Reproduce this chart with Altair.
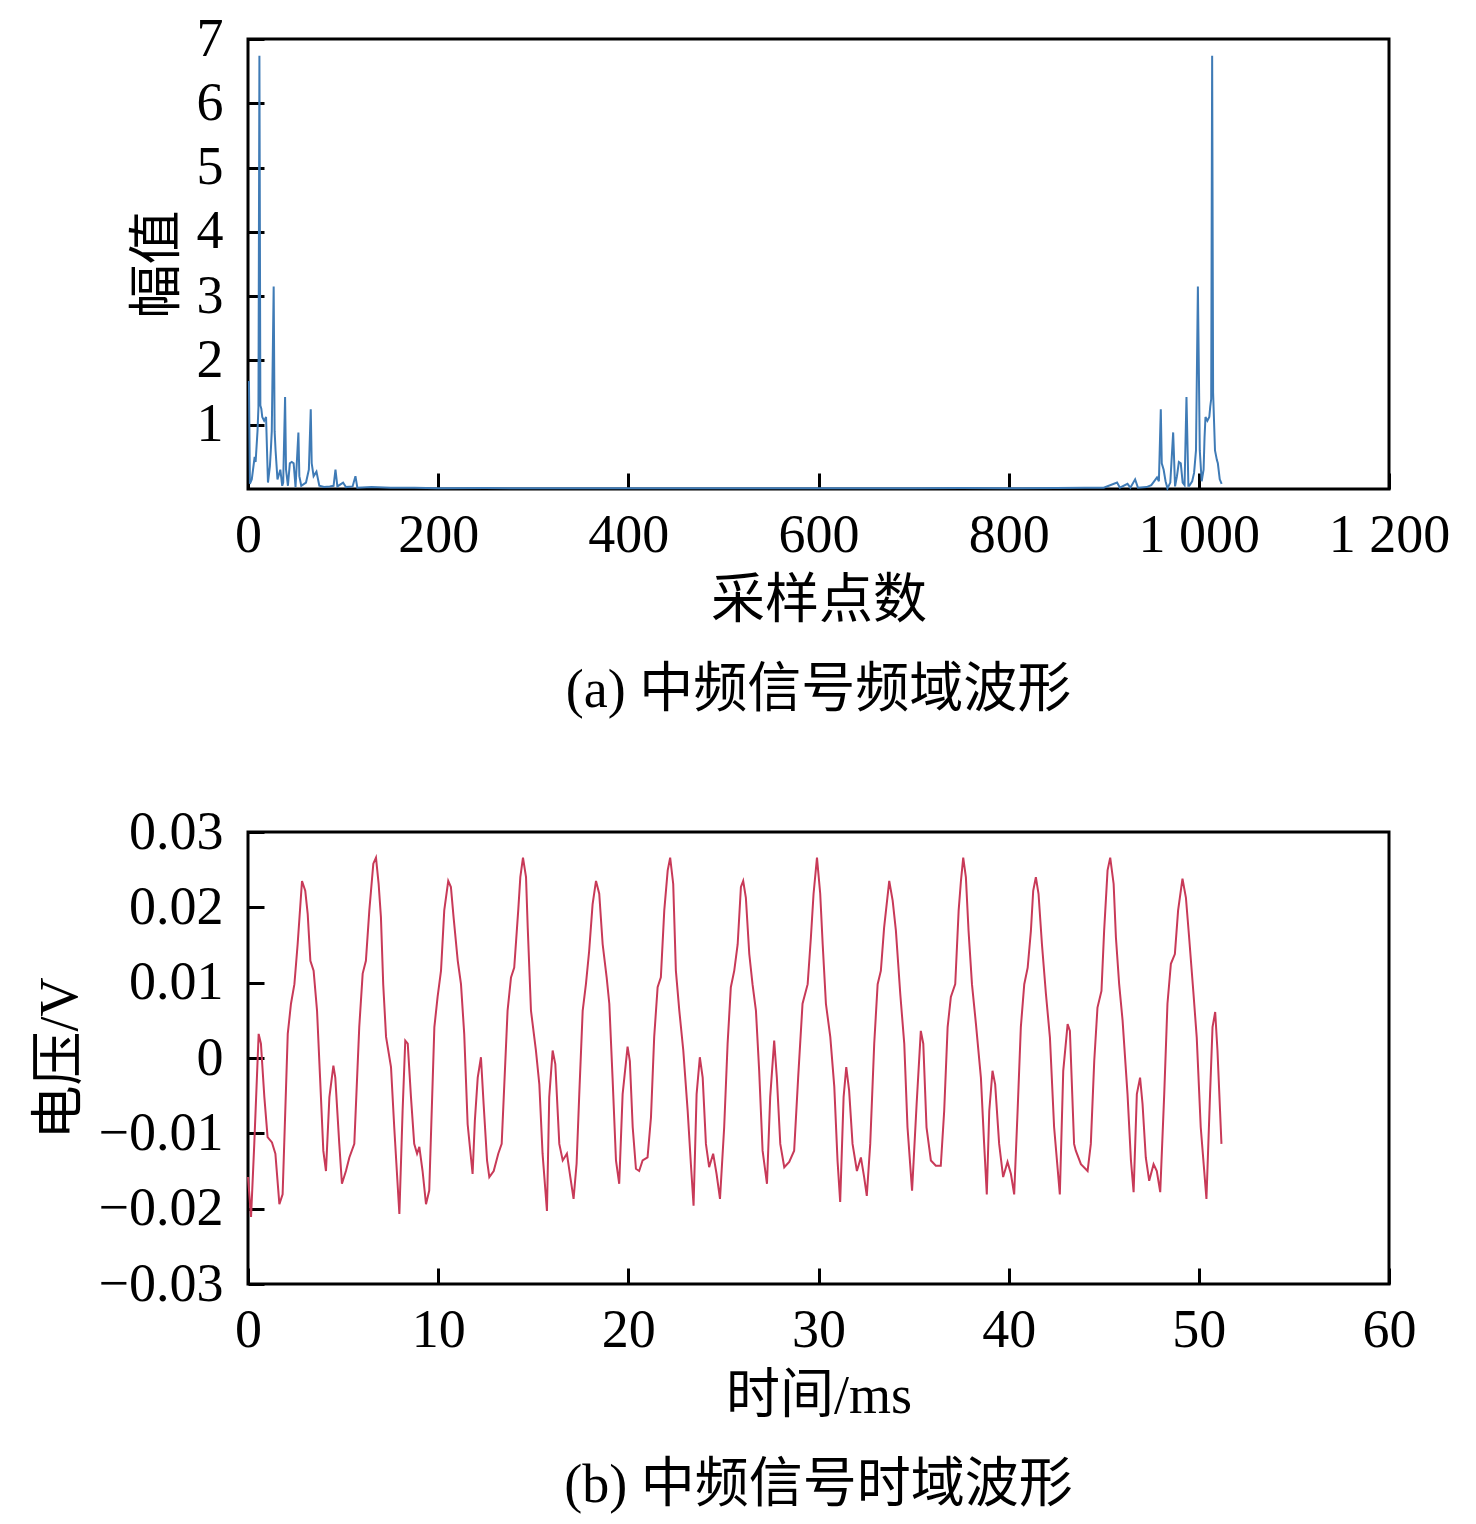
import altair as alt
import pandas as pd

FONT = "Liberation Serif, Noto Sans CJK SC, serif"

# ---------- (a) spectrum: sample index / magnitude ----------
spec_x = [1, 2, 4, 7, 8, 10, 11, 12, 13, 14, 15, 17, 19, 20, 21, 23, 24, 25, 27, 28,
          29, 31, 34, 36, 37, 39, 40, 42, 44, 46, 48, 50, 53, 54, 56, 61, 64, 66, 67, 69,
          72, 75, 80, 86, 90, 92, 94, 100, 103, 110, 113, 115, 130, 150, 175, 200, 250, 300,
          350, 400, 450, 500, 550, 600, 650, 700, 750, 800, 850, 880, 900, 914, 917, 925,
          928, 933, 936, 945, 950, 952, 956, 958, 960, 961, 963, 965, 967, 970, 973, 975,
          977, 979, 981, 983, 985, 987, 989, 990, 993, 995, 997, 999, 1001, 1003, 1005,
          1006, 1007, 1009, 1011, 1012, 1013, 1014, 1015, 1017, 1019, 1020, 1022, 1024]
spec_y = [1.68, 0.08, 0.15, 0.5, 0.42, 0.9, 1.28, 6.74, 1.3, 1.25, 1.12, 1.06, 1.12, 0.6, 0.1, 0.35, 0.6, 0.9, 3.15, 0.9,
          0.6, 0.15, 0.3, 0.05, 0.1, 1.43, 0.3, 0.05, 0.4, 0.42, 0.4, 0.03, 0.88, 0.2, 0.05, 0.1, 0.3, 1.24, 0.4, 0.2,
          0.27, 0.05, 0.03, 0.04, 0.05, 0.3, 0.04, 0.1, 0.03, 0.04, 0.2, 0.02, 0.03, 0.02, 0.02, 0.01, 0.015, 0.01,
          0.01, 0.01, 0.01, 0.01, 0.01, 0.01, 0.01, 0.01, 0.015, 0.01, 0.015, 0.02, 0.02, 0.1, 0.02, 0.08,
          0.02, 0.15, 0.02, 0.03, 0.06, 0.1, 0.18, 0.12, 1.24, 0.4, 0.3, 0.12, 0.01, 0.1, 0.88, 0.04,
          0.2, 0.42, 0.4, 0.1, 0.06, 1.43, 0.05, 0.05, 0.12, 0.25, 0.6, 3.15, 0.6, 0.12, 0.3,
          0.8, 1.12, 1.06, 1.12, 1.28, 1.4, 6.74, 1.5, 0.6, 0.45, 0.4, 0.15, 0.08]

# ---------- (b) time waveform: ms / V ----------
time_ms = [0.00, 0.16, 0.33, 0.56, 0.68, 0.86, 1.03, 1.26, 1.44, 1.65, 1.82, 2.09, 2.26, 2.44, 2.61, 2.84, 3.01, 3.14,
           3.28, 3.45, 3.63, 3.79, 3.96, 4.10, 4.28, 4.49, 4.59, 4.80, 4.94, 5.15, 5.33, 5.59, 5.85, 6.03, 6.20,
           6.38, 6.59, 6.73, 6.87, 6.99, 7.11, 7.26, 7.52, 7.69, 7.96, 8.13, 8.27, 8.40, 8.57,
           8.74, 8.89, 9.01, 9.18, 9.36, 9.53, 9.80, 9.97, 10.15, 10.32, 10.53, 10.67, 10.81, 11.03, 11.20,
           11.37, 11.55, 11.81, 11.93, 12.08, 12.25, 12.39, 12.57, 12.69, 12.92, 13.16, 13.34, 13.65, 13.83,
           14.00, 14.21, 14.32, 14.46, 14.62, 14.71, 14.88, 15.14, 15.32, 15.49, 15.72, 15.84, 16.02, 16.16,
           16.37, 16.55, 16.77, 16.95, 17.12, 17.28, 17.42, 17.60, 17.77, 17.94, 18.12, 18.30, 18.47, 18.65,
           18.86, 19.00, 19.17, 19.35, 19.52, 19.70, 19.96, 20.08, 20.23, 20.40, 20.57, 20.75, 21.01, 21.19,
           21.36, 21.54, 21.71, 21.89, 22.07, 22.20, 22.36, 22.50, 22.68, 22.89, 23.12, 23.29, 23.43, 23.59,
           23.76, 23.91, 24.08, 24.25, 24.46, 24.64, 24.82, 25.04, 25.22, 25.39, 25.57, 25.75, 25.92, 26.04,
           26.18, 26.36, 26.53, 26.71, 26.88, 27.06, 27.29, 27.46, 27.67, 27.81, 27.99, 28.20, 28.46, 28.72,
           28.93, 29.16, 29.43, 29.60, 29.74, 29.92, 30.09, 30.22, 30.39, 30.62, 30.83, 31.00, 31.14, 31.32,
           31.46, 31.61, 31.79, 32.02, 32.23, 32.40, 32.54, 32.72, 32.93, 33.11, 33.28, 33.45, 33.72, 33.90,
           34.07, 34.30, 34.51, 34.68, 34.92, 35.16, 35.38, 35.51, 35.68, 35.91, 36.17, 36.43, 36.61, 36.79,
           36.96, 37.19, 37.37, 37.49, 37.61, 37.75, 37.89, 38.07, 38.28, 38.54, 38.71, 38.85, 38.98, 39.15,
           39.29, 39.50, 39.71, 39.94, 40.12, 40.29, 40.47, 40.64, 40.82, 41.00, 41.17, 41.29, 41.43, 41.57,
           41.75, 41.96, 42.17, 42.39, 42.69, 42.87, 43.10, 43.22, 43.44, 43.53, 43.80, 44.15, 44.32, 44.50,
           44.67, 44.88, 45.02, 45.20, 45.34, 45.52, 45.64, 45.81, 45.99, 46.25, 46.43, 46.57, 46.74, 46.91,
           47.04, 47.21, 47.39, 47.62, 47.79, 47.97, 48.18, 48.35, 48.53, 48.74, 48.91, 49.14, 49.32, 49.49,
           49.72, 49.89, 50.10, 50.40, 50.59, 50.72, 50.86, 50.98, 51.19]
volt = [-0.0158, -0.0211, -0.0114, 0.0032, 0.0019, -0.0052, -0.0105, -0.0112, -0.0127, -0.0194, -0.0181, 0.0032, 0.0072, 0.0098, 0.0151, 0.0235, 0.0222, 0.0191,
        0.0129, 0.0116, 0.0063, -0.0026, -0.0123, -0.0150, -0.0052, -0.0010, -0.0026, -0.0114, -0.0167, -0.0150, -0.0132, -0.0114, 0.0041, 0.0112, 0.0129,
        0.0196, 0.0258, 0.0266, 0.0231, 0.0187, 0.0098, 0.0028, -0.0012, -0.0092, -0.0207, -0.0070, 0.0023, 0.0019, -0.0052,
        -0.0114, -0.0127, -0.0118, -0.0150, -0.0194, -0.0176, 0.0041, 0.0081, 0.0116, 0.0196, 0.0235, 0.0227, 0.0187, 0.0129, 0.0098,
        0.0032, -0.0088, -0.0154, -0.0083, -0.0026, 0.0001, -0.0061, -0.0136, -0.0158, -0.0150, -0.0127, -0.0114, 0.0063, 0.0107,
        0.0120, 0.0196, 0.0240, 0.0266, 0.0240, 0.0173, 0.0063, 0.0010, -0.0035, -0.0127, -0.0203, -0.0052, 0.0010, -0.0008,
        -0.0114, -0.0136, -0.0127, -0.0158, -0.0187, -0.0140, -0.0048, 0.0063, 0.0098, 0.0142, 0.0204, 0.0235, 0.0218, 0.0151,
        0.0107, 0.0072, -0.0026, -0.0136, -0.0167, -0.0048, 0.0015, -0.0004, -0.0092, -0.0147, -0.0150, -0.0136, -0.0132, -0.0079,
        0.0028, 0.0094, 0.0107, 0.0196, 0.0249, 0.0266, 0.0231, 0.0116, 0.0063, 0.0010, -0.0070, -0.0141, -0.0196, -0.0048,
        0.0001, -0.0026, -0.0114, -0.0145, -0.0127, -0.0154, -0.0187, -0.0092, 0.0019, 0.0094, 0.0116, 0.0151, 0.0227, 0.0235,
        0.0213, 0.0138, 0.0098, 0.0063, -0.0017, -0.0123, -0.0167, -0.0052, 0.0023, -0.0026, -0.0114, -0.0145, -0.0138, -0.0123,
        -0.0026, 0.0072, 0.0098, 0.0160, 0.0218, 0.0266, 0.0218, 0.0151, 0.0072, 0.0028, -0.0038, -0.0136, -0.0191, -0.0052,
        -0.0012, -0.0043, -0.0114, -0.0150, -0.0132, -0.0158, -0.0183, -0.0114, 0.0019, 0.0098, 0.0116, 0.0173, 0.0235, 0.0209,
        0.0169, 0.0085, 0.0019, -0.0092, -0.0176, -0.0061, 0.0036, 0.0019, -0.0092, -0.0136, -0.0143, -0.0143, -0.0070, 0.0041,
        0.0081, 0.0098, 0.0196, 0.0235, 0.0266, 0.0240, 0.0169, 0.0098, 0.0045, -0.0026, -0.0114, -0.0181, -0.0070, -0.0017,
        -0.0035, -0.0114, -0.0158, -0.0138, -0.0154, -0.0181, -0.0070, 0.0041, 0.0098, 0.0120, 0.0169, 0.0222, 0.0240, 0.0218,
        0.0151, 0.0085, 0.0027, -0.0092, -0.0181, -0.0017, 0.0045, 0.0036, -0.0114, -0.0123, -0.0141, -0.0150, -0.0114, -0.0004,
        0.0067, 0.0089, 0.0169, 0.0249, 0.0266, 0.0231, 0.0160, 0.0098, 0.0050, -0.0048, -0.0136, -0.0178, -0.0048, -0.0026,
        -0.0061, -0.0132, -0.0163, -0.0141, -0.0150, -0.0178, -0.0048, 0.0072, 0.0125, 0.0138, 0.0196, 0.0238, 0.0213, 0.0160,
        0.0085, 0.0027, -0.0092, -0.0187, -0.0048, 0.0041, 0.0061, 0.0010, -0.0114]

# ---------- ticks and labels ----------
x_ticks_a = [0, 200, 400, 600, 800, 1000, 1200]
x_labels_a = ["0", "200", "400", "600", "800", "1 000", "1 200"]
y_ticks_a = [1, 2, 3, 4, 5, 6, 7]
y_labels_a = ["1", "2", "3", "4", "5", "6", "7"]
x_ticks_b = [0, 10, 20, 30, 40, 50, 60]
x_labels_b = ["0", "10", "20", "30", "40", "50", "60"]
y_ticks_b = [-0.03, -0.02, -0.01, 0, 0.01, 0.02, 0.03]
y_labels_b = ["\u22120.03", "\u22120.02", "\u22120.01", "0", "0.01", "0.02", "0.03"]


def label_expr(vals, labs):
    expr = "''"
    for v, l in zip(reversed(vals), reversed(labs)):
        expr = f"datum.value == {v} ? '{l}' : ({expr})"
    return expr


def make_axis(vals, labs, title, label_pad, title_pad):
    return alt.Axis(values=vals, labelExpr=label_expr(vals, labs), title=title,
                    tickSize=16, tickWidth=3, tickColor="black", offset=-16,
                    domain=False, grid=False,
                    labelFont=FONT, labelFontSize=54, labelColor="black",
                    labelPadding=label_pad, labelFlush=False, labelOverlap=False,
                    titleFont=FONT, titleFontSize=54, titleFontWeight="normal",
                    titleColor="black", titlePadding=title_pad)


def make_title(text):
    return alt.TitleParams(text=text, orient="bottom", font=FONT, fontSize=54,
                           fontWeight="normal", color="black", offset=36,
                           anchor="middle", frame="group")


df_a = pd.DataFrame({"s": spec_x, "v": spec_y})
df_b = pd.DataFrame({"t": time_ms, "u": volt})

top = alt.Chart(df_a).mark_line(color="#3f7bb6", strokeWidth=2).encode(
    x=alt.X("s:Q", scale=alt.Scale(domain=[0, 1200], nice=False, zero=False),
            axis=make_axis(x_ticks_a, x_labels_a, "采样点数", 19, 12)),
    y=alt.Y("v:Q", scale=alt.Scale(domain=[0, 7], nice=False),
            axis=make_axis(y_ticks_a, y_labels_a, "幅值", 25, 11)),
).properties(width=1141, height=450, title=make_title("(a) 中频信号频域波形"))

bottom = alt.Chart(df_b).mark_line(color="#c83a58", strokeWidth=2).encode(
    x=alt.X("t:Q", scale=alt.Scale(domain=[0, 60], nice=False, zero=False),
            axis=make_axis(x_ticks_b, x_labels_b, "时间/ms", 19, 12)),
    y=alt.Y("u:Q", scale=alt.Scale(domain=[-0.03, 0.03], nice=False),
            axis=make_axis(y_ticks_b, y_labels_b, "电压/V", 25, 11)),
).properties(width=1141, height=452, title=make_title("(b) 中频信号时域波形"))

chart = alt.vconcat(top, bottom, spacing=83).properties(
    padding={"left": 23, "top": 2, "right": 5, "bottom": 0},
    background="white",
).configure_view(stroke="black", strokeWidth=3)

chart.save("out.html", embed_options={"renderer": "svg", "actions": False})
